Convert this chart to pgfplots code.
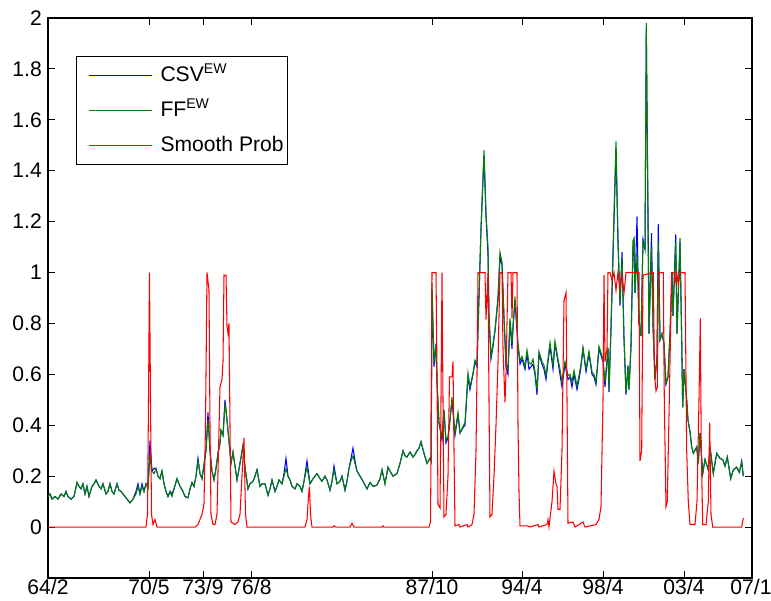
\documentclass[border=0pt]{standalone}
\usepackage{fontspec}
\setmainfont{Liberation Sans}
\usepackage{pgfplots}
\pgfplotsset{compat=1.18}
\usepackage{pgfplotstable}

% x is given on the plot's own horizontal scale (64/2 = 48, 07/1 = 752)
\pgfplotstableread{
x csv ff
48 0.12 0.12
50 0.13 0.13
52 0.11 0.11
55 0.12 0.12
58 0.11 0.11
61 0.13 0.13
64 0.12 0.12
66 0.14 0.14
68 0.12 0.12
71 0.11 0.11
74 0.12 0.12
77 0.175 0.175
79 0.16 0.16
81 0.15 0.15
83 0.17 0.17
85 0.13 0.13
87 0.16 0.16
89 0.12 0.12
92 0.16 0.16
94 0.17 0.17
96 0.185 0.185
99 0.16 0.16
101 0.15 0.15
103 0.17 0.17
106 0.13 0.13
108 0.14 0.14
110 0.17 0.17
112 0.14 0.14
114 0.13 0.13
117 0.17 0.17
119 0.145 0.145
121 0.14 0.14
124 0.125 0.125
127 0.11 0.11
130 0.095 0.095
133 0.11 0.11
136 0.14 0.13
138 0.17 0.16
140 0.13 0.13
142 0.17 0.16
144 0.14 0.14
146 0.17 0.17
148 0.16 0.15
150 0.34 0.28
152 0.22 0.22
154 0.23 0.21
156 0.23 0.23
158 0.20 0.20
160 0.19 0.19
162 0.22 0.22
164 0.17 0.17
166 0.14 0.14
168 0.12 0.12
170 0.14 0.14
172 0.13 0.12
174 0.15 0.15
177 0.19 0.19
180 0.16 0.16
183 0.14 0.14
185 0.12 0.12
188 0.115 0.115
190 0.15 0.15
192 0.175 0.175
194 0.16 0.16
196 0.20 0.20
198 0.27 0.26
200 0.21 0.21
202 0.19 0.19
204 0.245 0.245
206 0.30 0.30
208 0.45 0.42
210 0.30 0.30
212 0.22 0.22
214 0.185 0.185
216 0.23 0.23
218 0.29 0.29
220 0.33 0.33
221 0.38 0.38
223 0.36 0.36
225 0.50 0.48
226 0.46 0.46
228 0.38 0.38
231 0.25 0.25
233 0.295 0.295
235 0.24 0.24
237 0.185 0.185
240 0.25 0.25
243 0.32 0.32
245 0.235 0.235
248 0.15 0.15
250 0.17 0.17
253 0.18 0.18
255 0.20 0.20
257 0.225 0.225
260 0.16 0.16
262 0.17 0.17
265 0.17 0.17
268 0.125 0.125
270 0.15 0.15
272 0.185 0.185
275 0.14 0.14
277 0.16 0.16
279 0.185 0.185
282 0.17 0.17
284 0.21 0.20
286 0.27 0.23
288 0.20 0.20
290 0.185 0.185
292 0.16 0.16
295 0.15 0.15
297 0.17 0.17
300 0.16 0.16
302 0.14 0.14
304 0.18 0.18
307 0.26 0.235
310 0.17 0.17
313 0.19 0.19
317 0.21 0.21
320 0.19 0.19
322 0.18 0.18
325 0.20 0.20
327 0.185 0.185
330 0.145 0.145
332 0.18 0.18
334 0.24 0.225
337 0.17 0.17
340 0.18 0.18
342 0.20 0.20
345 0.145 0.145
347 0.18 0.18
349 0.23 0.23
351 0.27 0.26
353 0.31 0.28
355 0.26 0.25
357 0.22 0.22
360 0.20 0.20
363 0.18 0.18
367 0.15 0.15
370 0.175 0.175
373 0.16 0.16
377 0.165 0.165
380 0.19 0.19
382 0.225 0.225
385 0.17 0.17
388 0.235 0.235
390 0.22 0.22
393 0.20 0.20
397 0.21 0.21
400 0.25 0.25
403 0.30 0.30
405 0.28 0.28
407 0.275 0.275
410 0.295 0.295
413 0.275 0.275
415 0.285 0.285
417 0.30 0.30
419 0.31 0.31
421 0.335 0.335
424 0.29 0.29
427 0.25 0.25
430 0.27 0.27
431 0.26 0.26
432 0.93 0.96
434 0.63 0.645
436 0.72 0.72
437 0.57 0.57
439 0.41 0.41
442 0.34 0.355
444 0.46 0.46
446 0.33 0.34
448 0.35 0.355
450 0.42 0.42
452 0.50 0.51
455 0.36 0.37
458 0.44 0.45
460 0.37 0.37
463 0.39 0.395
465 0.40 0.41
468 0.59 0.605
470 0.54 0.55
473 0.60 0.605
475 0.65 0.655
477 0.63 0.64
478 0.77 0.775
481 1.17 1.17
484 1.46 1.48
486 1.22 1.235
488 1.07 1.10
489 0.83 0.83
491 0.66 0.67
493 0.71 0.72
495 0.77 0.775
498 0.89 0.905
500 1.06 1.08
502 1.03 1.04
504 0.82 0.83
506 0.63 0.645
508 0.60 0.62
510 0.81 0.82
512 0.70 0.72
513 0.78 0.79
515 0.89 0.905
518 0.71 0.72
520 0.64 0.655
522 0.66 0.67
525 0.62 0.63
527 0.68 0.695
529 0.62 0.645
531 0.63 0.64
533 0.64 0.66
535 0.60 0.61
537 0.52 0.54
539 0.68 0.69
542 0.64 0.65
544 0.62 0.635
546 0.58 0.595
548 0.65 0.66
550 0.71 0.725
553 0.62 0.635
555 0.72 0.73
558 0.65 0.66
560 0.60 0.62
562 0.55 0.57
565 0.64 0.65
568 0.58 0.595
570 0.59 0.60
572 0.55 0.57
574 0.60 0.615
577 0.54 0.555
579 0.58 0.595
581 0.63 0.64
583 0.70 0.705
586 0.61 0.62
589 0.68 0.69
592 0.60 0.61
594 0.59 0.60
596 0.56 0.57
599 0.70 0.71
603 0.65 0.66
605 0.55 0.57
608 0.70 0.705
609 0.53 0.54
611 0.78 0.785
614 1.20 1.23
616 1.49 1.515
618 1.12 1.125
620 0.87 0.88
622 1.08 1.055
624 0.74 0.745
626 0.52 0.525
628 0.63 0.635
629 0.54 0.54
631 0.71 0.715
633 1.10 1.125
634 1.12 1.135
635 0.92 0.92
637 1.22 1.07
639 0.80 0.80
641 0.75 0.75
643 1.13 1.12
645 1.09 1.09
646.3 1.95 1.98
648 1.245 1.18
649 0.76 0.76
651.5 1.155 1.10
653 0.79 0.79
655 0.58 0.58
657 0.665 0.665
658.3 1.19 1.12
660 0.735 0.735
662 0.76 0.76
664 0.72 0.72
666 0.56 0.565
668 0.59 0.59
670 0.76 0.76
672 1.0 1.0
673 0.83 0.83
675.7 1.15 1.12
677 0.76 0.76
680 1.12 1.135
681.7 0.735 0.735
682.7 0.47 0.47
684 0.62 0.62
686.7 0.50 0.50
688 0.42 0.42
690 0.375 0.375
691.7 0.315 0.315
693.3 0.29 0.29
696.7 0.315 0.315
698.3 0.25 0.25
700 0.37 0.37
702.7 0.21 0.21
705 0.265 0.265
708.3 0.225 0.225
710 0.315 0.315
713.3 0.21 0.21
716.7 0.29 0.29
720 0.27 0.27
722.7 0.265 0.265
725 0.24 0.24
727.3 0.275 0.275
730.7 0.19 0.19
733.3 0.225 0.225
736.7 0.235 0.235
739.3 0.215 0.215
741.7 0.26 0.255
743.3 0.2 0.2
}\ewdata

\pgfplotstableread{
x p
48 0
146 0
147.5 0.05
148.5 0.5
149.5 1.0
150.5 0.5
151.5 0.05
153 0.01
155 0.03
157 0
195 0
198 0.01
202 0.05
204 0.09
205.5 0.4
207 1.0
209 0.93
210 0.4
211 0.05
213 0.01
215 0.01
217 0.05
218.5 0.3
220 0.55
222 0.58
223 0.65
224 0.99
226 0.99
227 0.79
228 0.76
229 0.80
230 0.4
231 0.02
235 0.01
238 0.02
240 0.05
242 0.2
244 0.35
245.5 0.05
247 0
305 0
307 0.03
308.5 0.12
309.5 0.16
310.5 0.05
312 0
333 0
334 0.005
336 0
350 0
352 0.015
354 0
382 0
383 0.005
384 0
429 0
430.5 0.02
431.5 0.5
432 1.0
436 1.0
437 0.6
438 0.09
440 0.075
441 0.5
442 1.0
443 0.5
444 0.04
446 0.05
448 0.2
449.5 0.59
452 0.59
453 0.65
454 0.3
455 0.005
459 0.01
460 0
467 0.01
468 0
472 0.01
474 0.05
476 0.3
477 0.6
478 1.0
485 1.0
486 0.815
488 1.0
489 0.5
490 0.04
492 0.05
494 0.2
496 0.4
498 0.645
499 0.83
500 1.0
502 1.0
503 0.7
505 0.49
506 0.6
508 1.0
511 1.0
512 0.82
513 1.0
517 1.0
518 0.4
519 0.14
520 0.005
527 0.005
530 0
538 0.01
539 0
547 0.01
548 0.03
549 0
552 0.1
554 0.22
556 0.17
557 0.16
558 0.07
560 0.07
562 0.3
564 0.89
566 0.92
567 0.5
568 0.015
573 0.02
575 0
583 0.02
585 0
596 0.01
599 0.03
601 0.08
603 0.5
604 0.99
605 0.65
607 0.7
608 1.0
610 1.0
612 0.97
614 1.0
616 0.93
618 1.0
620 0.94
622 0.99
624 0.92
626 1.0
639 1.0
640 0.26
641.7 0.3
643 0.99
653.3 1.0
654.5 0.6
656 0.535
657.3 0.55
658.5 1.0
663.3 1.0
664.3 0.5
666 0.08
667.3 0.1
669.3 0.5
671.7 1.0
674 1.0
675 0.96
676.7 1.0
678.3 0.95
680 1.0
685 1.0
686.7 0.3
688.3 0.1
690 0.01
695 0.01
697 0.1
699 0.5
700.3 0.82
701.3 0.3
702.7 0.01
706 0.01
708.3 0.1
709.7 0.41
711 0.05
712.7 0
741.7 0
743.3 0.035
}\probdata

\begin{document}
\begin{tikzpicture}
\begin{axis}[
  scale only axis, width=14.08cm, height=11.2cm,
  xmin=48, xmax=752, ymin=-0.2, ymax=2,
  xtick={48,149,203,251,432,522,603,684,751},
  xticklabels={64/2,70/5,73/9,76/8,87/10,94/4,98/4,03/4,07/1},
  ytick={0,0.2,0.4,0.6,0.8,1,1.2,1.4,1.6,1.8,2},
  tick align=inside, major tick length=0.14cm,
  tick style={black, line width=0.5pt},
  /pgf/number format/assume math mode=true,
  tick label style={font=\fontsize{12}{14}\selectfont},
  xticklabel style={yshift=3pt},
  axis line style={line width=0.6pt},
  legend style={at={(0.04,0.933)}, anchor=north west,
    font=\fontsize{12}{14}\selectfont,
    inner xsep=2pt, inner ysep=3pt, row sep=4pt,
    nodes={inner xsep=0pt, text height=0.33cm, text depth=0.09cm}},
  legend cell align=left,
  legend image code/.code={%
    \draw[#1, line width=0.7pt] (0.17cm,0cm) -- (1.43cm,0cm);
    \path[draw=none] (0cm,0cm) (1.61cm,0cm);},
]
\coordinate (ll) at (rel axis cs:0,0);
\coordinate (ur) at (rel axis cs:1,1);
\addplot[blue, line width=0.6pt] table[x=x, y=csv] {\ewdata};
\addlegendentry{CSV\textsuperscript{EW}}
\addplot[green!50!black, line width=0.6pt] table[x=x, y=ff] {\ewdata};
\addlegendentry{FF\textsuperscript{EW}}
\addplot[red, line width=0.6pt] table[x=x, y=p] {\probdata};
\addlegendentry{Smooth Prob}
\end{axis}
\pgfresetboundingbox
\path[use as bounding box] ([xshift=-0.96cm,yshift=-0.46cm]ll) rectangle ([xshift=0.38cm,yshift=0.36cm]ur);
\end{tikzpicture}
\end{document}
